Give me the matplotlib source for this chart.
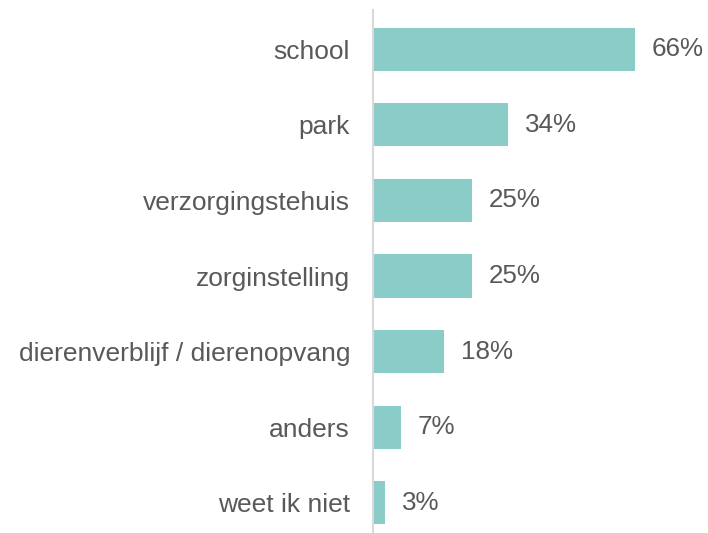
import matplotlib.pyplot as plt

categories = ['school', 'park', 'verzorgingstehuis', 'zorginstelling',
              'dierenverblijf / dierenopvang', 'anders', 'weet ik niet']
values = [66, 34, 25, 25, 18, 7, 3]
labels = ['66%', '34%', '25%', '25%', '18%', '7%', '3%']

plt.rcParams['font.family'] = ['Liberation Sans', 'DejaVu Sans']

fig = plt.figure(figsize=(7.08, 5.33), dpi=100)
ax = fig.add_axes([373 / 708, 0, 327 / 708, 523 / 533])

y = list(range(len(categories)))
ax.barh(y, values, height=0.57, color='#8accc8')

for yi, v, lab in zip(y, values, labels):
    ax.text(v + 4.2, yi, lab, va='center', ha='left', fontsize=18.7, color='#595959')

ax.set_xlim(0, 82.4)
ax.set_ylim(6.4, -0.52)
ax.set_yticks(y)
ax.set_yticklabels(categories, fontsize=19, color='#595959')
ax.tick_params(axis='y', length=0, pad=16.5)
ax.set_xticks([])

for side in ['top', 'right', 'bottom']:
    ax.spines[side].set_visible(False)
ax.spines['left'].set_color('#d9d9d9')
ax.spines['left'].set_linewidth(1.5)

fig.savefig('out.png', dpi=100)
